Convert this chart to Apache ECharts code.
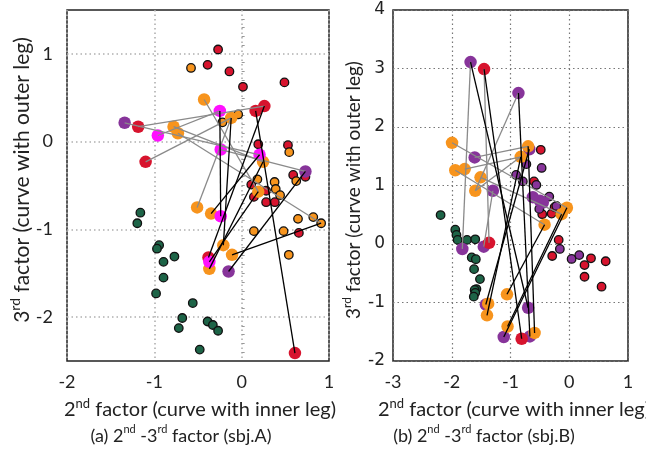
<!DOCTYPE html>
<html><head><meta charset="utf-8">
<script src="https://cdn.jsdelivr.net/npm/echarts@6/dist/echarts.min.js"></script>
<style>html,body{margin:0;padding:0;background:#fff}#c{width:646px;height:452px}</style>
</head><body><div id="c"></div>
<script>
// ---------- tick values ----------
const xTicksA = [-2, -1, 0, 1];
const yTicksA = [-2, -1, 0, 1];
const xTicksB = [-3, -2, -1, 0, 1];
const yTicksB = [-2, -1, 0, 1, 2, 3, 4];

// ---------- subject A (left panel) ----------
const greenSmallA = [[-1.16,-0.81],[-1.195,-0.93],[-0.945,-1.18],[-0.97,-1.22],[-0.77,-1.31],[-0.895,-1.37],[-0.895,-1.55],[-0.98,-1.73],[-0.56,-1.84],[-0.68,-2.01],[-0.72,-2.125],[-0.39,-2.05],[-0.33,-2.09],[-0.27,-2.155],[-0.48,-2.37]];
const redSmallA = [[-0.27,1.05],[-0.39,0.875],[-0.14,0.80],[0.015,0.625],[0.49,0.675],[0.19,-0.03],[0.53,-0.04],[0.59,-0.38],[0.73,-0.40],[0.11,-0.49],[0.28,-0.56],[0.14,-0.63],[0.28,-0.69],[0.38,-0.69],[0.655,-1.04]];
const orangeSmallA = [[-0.58,0.84],[-0.04,0.31],[-0.22,0.22],[0.545,-0.12],[0.625,-0.45],[0.18,-0.43],[0.377,-0.46],[0.39,-0.54],[0.44,-0.61],[0.645,-0.88],[0.82,-0.86],[0.91,-0.93],[0.14,-1.02],[0.48,-1.02],[0.54,-1.29]];
const redLargeA = [[-1.185,0.17],[-1.10,-0.23],[0.16,0.35],[0.26,0.405],[-0.38,-1.32],[0.61,-2.41]];
const orangeLargeA = [[-0.78,0.17],[-0.73,0.095],[-0.43,0.48],[-0.12,0.27],[0.245,-0.23],[-0.51,-0.75],[-0.35,-0.82],[0.19,-0.57],[-0.21,-1.18],[-0.11,-1.29],[-0.37,-1.45]];
const magentaLargeA = [[-0.96,0.07],[-0.25,0.35],[-0.24,-0.09],[0.205,-0.15],[-0.24,-0.85],[-0.37,-1.37]];
const purpleLargeA = [[-1.34,0.215],[0.73,-0.34],[-0.15,-1.48]];
const grayLinksA = [
  [[-1.34,0.215],[0.205,-0.15]],
  [[-1.185,0.17],[0.26,0.405]],
  [[-0.96,0.07],[-0.25,0.35]],
  [[-0.78,0.17],[0.245,-0.23]],
  [[-0.73,0.095],[0.91,-0.93]],
  [[-1.10,-0.23],[-0.12,0.27]],
  [[-0.43,0.48],[0.19,-0.57]],
  [[-0.51,-0.75],[-0.12,0.27]],
  [[-0.24,-0.09],[0.73,-0.34]]
];
const blackLinksA = [
  [[-0.25,0.35],[-0.24,-0.85]],
  [[-0.12,0.27],[-0.21,-1.18]],
  [[0.16,0.35],[0.61,-2.41]],
  [[0.26,0.405],[-0.38,-1.32]],
  [[0.205,-0.15],[-0.35,-0.82]],
  [[0.245,-0.23],[-0.37,-1.45]],
  [[0.19,-0.57],[-0.37,-1.37]],
  [[0.73,-0.34],[-0.15,-1.48]],
  [[-0.11,-1.29],[0.91,-0.93]]
];

// ---------- subject B (right panel) ----------
const greenSmallB = [[-2.19,0.495],[-1.94,0.245],[-1.92,0.155],[-1.90,0.07],[-1.74,0.07],[-1.60,0.08],[-1.66,-0.23],[-1.59,-0.26],[-1.62,-0.43],[-1.52,-0.60],[-1.58,-0.77],[-1.61,-0.785],[-1.60,-0.835],[-1.625,-0.90]];
const redSmallB = [[-0.485,1.61],[-0.60,1.07],[-0.46,0.51],[-0.30,0.52],[-0.25,0.63],[-0.18,0.07],[-0.29,-0.205],[0.37,-0.245],[0.62,-0.295],[0.26,-0.36],[0.26,-0.56],[0.55,-0.73]];
const purpleSmallB = [[-0.47,1.30],[-0.73,1.365],[-0.905,1.18],[-0.79,1.07],[-0.56,1.01],[-0.34,0.81],[-0.22,0.65],[-0.51,0.60],[-0.16,-0.085],[0.04,-0.255],[0.17,-0.19]];
const purpleLargeB = [[-1.68,3.11],[-0.865,2.58],[-1.61,1.48],[-0.68,1.62],[-1.30,0.91],[-0.62,0.80],[-0.50,0.74],[-0.45,0.71],[-1.82,-0.085],[-1.455,-0.045],[-1.42,-1.035],[-0.70,-1.09],[-1.115,-1.59],[-0.67,-1.58]];
const orangeLargeB = [[-1.995,1.73],[-0.70,1.67],[-0.825,1.49],[-1.94,1.26],[-1.78,1.28],[-1.51,1.14],[-1.60,0.91],[-0.04,0.62],[-0.13,0.51],[-0.42,0.33],[-1.06,-0.86],[-1.38,-1.02],[-1.40,-1.22],[-1.05,-1.41],[-0.59,-1.52]];
const redLargeB = [[-1.45,2.99],[-1.365,0.02],[-0.81,-1.62]];
const grayLinksB = [
  [[-1.68,3.11],[-1.82,-0.085]],
  [[-1.45,2.99],[-1.365,0.02]],
  [[-0.865,2.58],[-1.60,0.91]],
  [[-1.995,1.73],[-0.04,0.62]],
  [[-1.61,1.48],[-0.70,1.67]],
  [[-1.78,1.28],[-0.825,1.49]],
  [[-1.94,1.26],[-0.42,0.33]],
  [[-1.60,0.91],[-0.825,1.49]],
  [[-1.30,0.91],[-1.455,-0.045]],
  [[-1.51,1.14],[-0.13,0.51]]
];
const blackLinksB = [
  [[-1.68,3.11],[-0.70,-1.09]],
  [[-1.45,2.99],[-0.81,-1.62]],
  [[-0.865,2.58],[-0.67,-1.58]],
  [[-0.70,1.67],[-0.59,-1.52]],
  [[-0.68,1.62],[-1.42,-1.035]],
  [[-0.825,1.49],[-1.40,-1.22]],
  [[-0.04,0.62],[-1.115,-1.59]],
  [[-0.13,0.51],[-1.05,-1.41]],
  [[-0.42,0.33],[-1.06,-0.86]]
];

// ---------- styling ----------
const C = {green:'#1d6447', red:'#d7142e', orange:'#f7941d', magenta:'#ff10ff', purple:'#87349a'};
const SANS = 'Lato';
const SMALL = 8.5, LARGE = 12.5;

function scat(data, color, small, gi) {
  return {
    type:'scatter', xAxisIndex:gi, yAxisIndex:gi, data, symbol:'circle',
    symbolSize: small ? SMALL : LARGE, silent:true, z:2,
    itemStyle: small ? {color, borderColor:'#111', borderWidth:1.3, opacity:1}
                     : {color, borderWidth:0, opacity:1}
  };
}
function links(segs, color, gi) {
  return {
    type:'lines', coordinateSystem:'cartesian2d', xAxisIndex:gi, yAxisIndex:gi,
    data: segs.map(s => ({coords:s})), silent:true, z:5,
    lineStyle:{color, width:1.3, opacity:1, curveness:0}
  };
}
function xAx(gi, min, max, ticks) {
  return {type:'value', gridIndex:gi, min, max, interval:1,
    axisLine:{show:false}, axisTick:{show:false},
    axisLabel:{fontFamily:SANS, fontSize:18, color:'#222', margin:12, customValues:ticks},
    splitLine:{show:true, lineStyle:{color: gi===0 ? '#b0b0b0':'#777', type:[1.5,3], width: gi===0?1.6:1.2}}};
}
const option = {
  animation:false,
  backgroundColor:'#fff',
  grid:[
    {left:67, top:10, width:262, height:351, show:true, borderColor:'#222', borderWidth:1.5, containLabel:false},
    {left:393, top:10, width:235, height:351, show:true, borderColor:'#222', borderWidth:1.5, containLabel:false}
  ],
  xAxis:[ xAx(0,-2,1,xTicksA), xAx(1,-3,1,xTicksB) ],
  yAxis:[
    {type:'value', gridIndex:0, min:-2.5, max:1.5,
      axisLine:{show:false},
      axisTick:{show:false, inside:true, customValues:yTicksA},
      minorTick:{show:true, splitNumber:10, length:3, lineStyle:{color:'#999', width:1}},
      axisLabel:{fontFamily:SANS, fontSize:18, color:'#222', margin:14, customValues:yTicksA},
      splitLine:{show:true, lineStyle:{color:'#b0b0b0', type:[1.5,3], width:1.6}}},
    {type:'value', gridIndex:1, min:-2, max:4, interval:1,
      axisLine:{show:false}, axisTick:{show:false},
      axisLabel:{fontFamily:'DejaVu Sans', fontSize:17, color:'#222', margin:8, customValues:yTicksB},
      splitLine:{show:true, lineStyle:{color:'#777', type:[1.5,3], width:1.2}}}
  ],
  series:[
    scat(greenSmallA, C.green, true, 0),
    scat(redSmallA, C.red, true, 0),
    scat(orangeSmallA, C.orange, true, 0),
    scat(redLargeA, C.red, false, 0),
    scat(orangeLargeA, C.orange, false, 0),
    scat(magentaLargeA, C.magenta, false, 0),
    scat(purpleLargeA, C.purple, false, 0),
    links(grayLinksA, '#8a8a8a', 0),
    links(blackLinksA, '#000', 0),
    scat(greenSmallB, C.green, true, 1),
    scat(redSmallB, C.red, true, 1),
    scat(purpleSmallB, C.purple, true, 1),
    scat(purpleLargeB, C.purple, false, 1),
    scat(orangeLargeB, C.orange, false, 1),
    scat(redLargeB, C.red, false, 1),
    links(grayLinksB, '#8a8a8a', 1),
    links(blackLinksB, '#000', 1)
  ],
  graphic:[]
};

function label(x, y, rot, parts, size, supSize) {
  return {type:'text', x, y, rotation:rot, silent:true, z:100,
    style:{text:parts, align:'center', verticalAlign:'middle', fill:'#222',
      fontFamily:SANS, fontSize:size,
      rich:{n:{fontFamily:SANS, fontSize:size, lineHeight:size+6, fill:'#222'},
            s:{fontFamily:SANS, fontSize:supSize, lineHeight:supSize, verticalAlign:'top', fill:'#222'}}}};
}
option.graphic = [
  label(200, 410, 0, '{n|2}{s|nd}{n| factor (curve with inner leg)}', 20, 13),
  label(514, 410, 0, '{n|2}{s|nd}{n| factor (curve with inner leg)}', 20, 13),
  label(22, 180, Math.PI/2, '{n|3}{s|rd}{n| factor (curve with outer leg)}', 21, 14),
  label(354, 190, Math.PI/2, '{n|3}{s|rd}{n| factor (curve with outer leg)}', 19, 12),
  label(181, 436, 0, '{n|(a) 2}{s|nd}{n| -3}{s|rd}{n| factor (sbj.A)}', 18, 11),
  label(484, 436, 0, '{n|(b) 2}{s|nd}{n| -3}{s|rd}{n| factor (sbj.B)}', 18, 11)
];

const chart = echarts.init(document.getElementById('c'), null, {renderer:'canvas'});
chart.setOption(option);
</script></body></html>
